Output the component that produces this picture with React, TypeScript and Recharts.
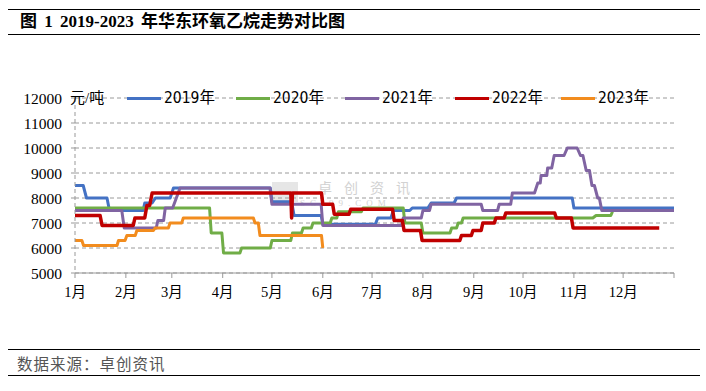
import React from "react";
import { LineChart, Line, XAxis, YAxis, CartesianGrid } from "recharts";

// ---- axes ----
const monthTicks = [0, 31, 59, 90, 120, 151, 181, 212, 243, 273, 304, 334, 365];
const monthLabels = ["1月", "2月", "3月", "4月", "5月", "6月", "7月", "8月", "9月", "10月", "11月", "12月", ""];
const priceTicks = [5000, 6000, 7000, 8000, 9000, 10000, 11000, 12000];

// ---- series (day of year -> 元/吨) ----
const days2019 = [0, 5, 7, 19.5, 21, 41.5, 42.5, 47, 49, 58, 60, 119, 120, 132, 133.5, 150, 151, 183, 184.5, 192.5, 194, 204, 205.5, 215, 217, 231, 232.5, 303, 304, 365];
const prices2019 = [8500, 8500, 8000, 8000, 7500, 7500, 7800, 7800, 8000, 8000, 8400, 8400, 7850, 7850, 7300, 7300, 6950, 6950, 7200, 7200, 7500, 7500, 7600, 7600, 7800, 7800, 8000, 8000, 7600, 7600];

const days2020 = [0, 82, 83, 89.5, 90.5, 100.5, 101.5, 119, 120, 131.5, 132.5, 138, 139, 144, 145, 155.5, 156.5, 159.5, 160.5, 174.5, 175.5, 200, 201, 211, 212, 228.5, 229.5, 232.5, 233.5, 235.5, 236.5, 315.5, 317.5, 326.5, 327.5];
const prices2020 = [7600, 7600, 6600, 6600, 5800, 5800, 6000, 6000, 6300, 6300, 6600, 6600, 6800, 6800, 7000, 7000, 7200, 7200, 7450, 7450, 7600, 7600, 7000, 7000, 6600, 6600, 6800, 6800, 7000, 7000, 7200, 7200, 7300, 7300, 7450];

const days2021 = [0, 28.5, 30, 49.5, 50.5, 54, 55, 59.5, 64, 118.8, 120, 150, 151, 199, 200, 211, 212, 216, 217, 247.5, 248.5, 257.5, 258.5, 265.5, 266.5, 280, 282, 283.5, 284, 287.5, 288, 290.5, 292, 298, 300, 306, 308, 309.5, 311.5, 313.5, 315, 316.5, 318.5, 319.5, 321, 365];
const prices2021 = [7500, 7500, 6800, 6800, 7100, 7100, 7600, 7600, 8400, 8400, 7750, 7750, 6900, 6900, 7200, 7200, 7500, 7500, 7750, 7750, 7500, 7500, 7750, 7750, 8200, 8200, 8600, 8600, 8900, 8900, 9200, 9200, 9700, 9700, 10000, 10000, 9700, 9700, 9100, 9100, 8500, 8500, 8000, 8000, 7500, 7500];

const days2022 = [0, 15.3, 16.5, 35.5, 36.5, 42.5, 43.8, 45.5, 47, 131.5, 132, 132.5, 150.2, 151, 157, 158, 167, 168, 193.5, 194.5, 199.5, 200.5, 210.5, 211.5, 234.5, 235.5, 241.5, 242.5, 247.5, 248.5, 255.5, 256.5, 261.5, 262.5, 292.3, 293.3, 302.5, 303.5, 356];
const prices2022 = [7300, 7300, 6900, 6900, 7200, 7200, 7700, 7700, 8200, 8200, 7200, 8200, 8200, 7750, 7750, 7350, 7350, 7550, 7550, 7100, 7100, 6700, 6700, 6300, 6300, 6500, 6500, 6700, 6700, 7000, 7000, 7200, 7200, 7400, 7400, 7200, 7200, 6800, 6800];

const days2023 = [0, 4.2, 5.2, 25.6, 26.5, 30.5, 31.6, 36.7, 37.7, 47.8, 48.8, 56.9, 57.9, 65, 66, 108.7, 109.7, 111.7, 112.7, 150.2, 151];
const prices2023 = [6300, 6300, 6100, 6100, 6300, 6300, 6500, 6500, 6700, 6700, 6800, 6800, 7000, 7000, 7200, 7200, 7000, 7000, 6500, 6500, 6000];

const seriesNames = ["2019年", "2020年", "2021年", "2022年", "2023年"];
const seriesColors = ["#4472C4", "#70AD47", "#8064A2", "#C00000", "#F28C1E"];
const seriesDays = [days2019, days2020, days2021, days2022, days2023];
const seriesPrices = [prices2019, prices2020, prices2021, prices2022, prices2023];

const seriesData = seriesDays.map((ds, i) =>
  ds.map((d, j) => ({ day: d, v: seriesPrices[i][j] }))
);

const serif = "'Liberation Serif', 'Noto Sans CJK SC', serif";
const cjk = "'Noto Sans CJK SC', sans-serif";
const narrow = "'Liberation Sans Narrow', 'DejaVu Sans Condensed', 'Noto Sans CJK SC', sans-serif";

const legendX = [127, 236, 345, 455, 561];

export default function App() {
  return (
    <div style={{ position: "relative", width: 706, height: 391, background: "#fff", overflow: "hidden" }}>
      <style>{`body{margin:0;}`}</style>

      {/* title */}
      <div style={{ position: "absolute", left: 8, top: 9, width: 692, height: 0, borderTop: "1.5px solid #000" }} />
      <div style={{ position: "absolute", left: 20, top: 11, fontFamily: serif, fontWeight: 700, fontSize: 17, wordSpacing: 3, whiteSpace: "pre", color: "#000", lineHeight: "22px" }}>
        图 1 2019-2023 年华东环氧乙烷走势对比图
      </div>
      <div style={{ position: "absolute", left: 8, top: 34, width: 692, height: 0, borderTop: "1.5px solid #000" }} />

      {/* watermark */}
      <div style={{ position: "absolute", left: 272, top: 182, width: 26, height: 20, background: "#e6e6e6" }} />
      <div style={{ position: "absolute", left: 318, top: 180, fontFamily: cjk, fontSize: 14, letterSpacing: 12, color: "#d2d2d2", lineHeight: "15px" }}>卓创资讯</div>
      <div style={{ position: "absolute", left: 300, top: 199, fontFamily: serif, fontSize: 9, letterSpacing: 5, color: "#d2d2d2", lineHeight: "9px" }}>SCI99.COM</div>

      <div style={{ position: "absolute", left: 0, top: 0 }}>
        <LineChart width={706} height={391} data={seriesData[0]} margin={{ top: 98, right: 32, bottom: 88, left: 0 }}>
          <CartesianGrid vertical={false} stroke="#9a9a9a" strokeDasharray="4 3" />
          <XAxis
            type="number"
            dataKey="day"
            domain={[0, 365]}
            ticks={monthTicks}
            interval={0}
            tickFormatter={(v: number) => monthLabels[monthTicks.indexOf(v)] ?? ""}
            height={30}
            axisLine={{ stroke: "#999" }}
            tickLine={{ stroke: "#999" }}
            tickSize={5}
            tickMargin={9}
            tick={{ fill: "#000", fontSize: 14.5, fontFamily: serif }}
            allowDataOverflow
          />
          <YAxis
            type="number"
            domain={[5000, 12000]}
            ticks={priceTicks}
            interval={0}
            width={75}
            axisLine={{ stroke: "#999", strokeDasharray: "4 3" }}
            tickLine={{ stroke: "#999" }}
            tickSize={4}
            tickMargin={9}
            tick={{ fill: "#000", fontSize: 15.5, fontFamily: serif }}
            allowDataOverflow
          />
          {seriesData.map((d, i) => (
            <Line
              key={seriesNames[i]}
              data={d}
              dataKey="v"
              name={seriesNames[i]}
              type="linear"
              stroke={seriesColors[i]}
              strokeWidth={i === 3 ? 3.5 : 3}
              dot={false}
              activeDot={false}
              isAnimationActive={false}
              strokeLinejoin="round"
            />
          ))}
        </LineChart>
      </div>

      {/* unit + legend */}
      <div style={{ position: "absolute", left: 70, top: 88, fontFamily: serif, fontSize: 15, lineHeight: "20px", color: "#000" }}>元/吨</div>
      {seriesNames.map((n, i) => (
        <React.Fragment key={n}>
          <div style={{ position: "absolute", left: legendX[i], top: 97, width: 34, height: 3, background: seriesColors[i] }} />
          <div style={{ position: "absolute", left: legendX[i] + 37, top: 88, fontFamily: narrow, fontSize: 15.5, lineHeight: "20px", color: "#000" }}>{n}</div>
        </React.Fragment>
      ))}

      {/* footer */}
      <div style={{ position: "absolute", left: 8, top: 349, width: 692, height: 0, borderTop: "1.5px solid #000" }} />
      <div style={{ position: "absolute", left: 17, top: 353, fontFamily: cjk, fontSize: 15.5, color: "#555", lineHeight: "20px", letterSpacing: 1 }}>数据来源：卓创资讯</div>
      <div style={{ position: "absolute", left: 8, top: 375, width: 692, height: 0, borderTop: "1.5px solid #000" }} />
    </div>
  );
}
